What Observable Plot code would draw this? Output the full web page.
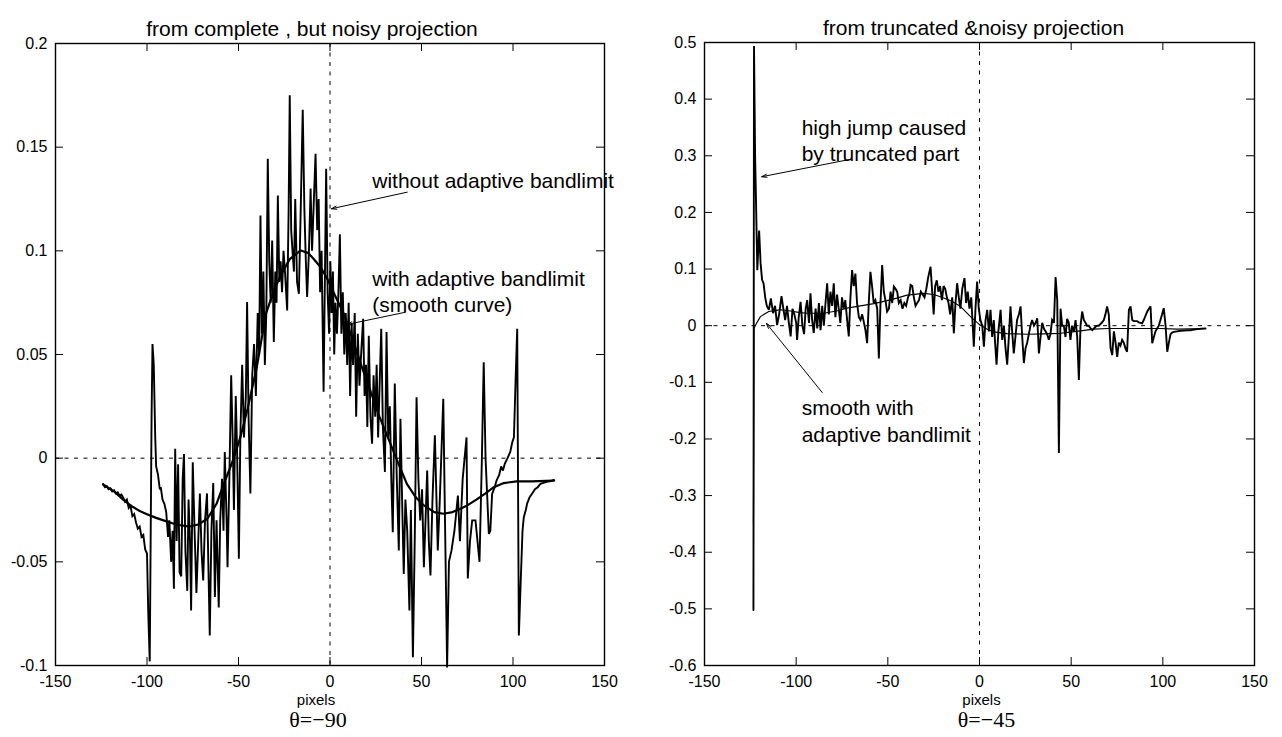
<!DOCTYPE html>
<html><head><meta charset="utf-8">
<script src="https://cdn.jsdelivr.net/npm/d3@7"></script>
<script src="https://cdn.jsdelivr.net/npm/@observablehq/plot@0.6"></script>
<style>
html,body{margin:0;padding:0;background:#fff;overflow:hidden}
#wrap{display:flex;width:1282px;height:737px}
</style></head><body><div id="wrap"></div>
<script>
// ---------- data ----------
const xTicks = [-150,-100,-50,0,50,100,150];
const leftYTicks = [-0.1,-0.05,0,0.05,0.1,0.15,0.2];
const rightYTicks = [-0.6,-0.5,-0.4,-0.3,-0.2,-0.1,0,0.1,0.2,0.3,0.4,0.5];
const leftTitle = "from complete , but noisy projection";
const rightTitle = "from truncated &noisy projection";
const leftTheta = "θ=−90";
const rightTheta = "θ=−45";
const xLabel = "pixels";

// left panel: without adaptive bandlimit (noisy)
const leftNoisy = [[-124,-0.0125],[-123,-0.014],[-122,-0.0135],[-121,-0.015],[-120,-0.0145],[-119,-0.016],[-118,-0.0155],[-117,-0.017],[-116,-0.0165],[-115,-0.018],[-114,-0.0175],[-113,-0.019],[-112,-0.021],[-111,-0.02],[-110,-0.024],[-109,-0.023],[-108,-0.028],[-107,-0.027],[-106,-0.031],[-105,-0.034],[-104,-0.033],[-103,-0.038],[-102,-0.037],[-101,-0.044],[-100,-0.046],[-99.3,-0.075],[-98.5,-0.098],[-97.5,0.02],[-97,0.055],[-96.3,0.045],[-95.5,0.01],[-95,-0.004],[-94,-0.008],[-93,-0.015],[-92.5,-0.014],[-91.5,-0.02],[-90.5,-0.022],[-89.5,-0.026],[-88.5,-0.038],[-87.8,-0.03],[-86.8,-0.05],[-86,-0.035],[-85.3,-0.063],[-84.6,0.0045],[-83.8,-0.04],[-83,-0.003],[-82.2,-0.055],[-81.3,-0.057],[-80.5,-0.01],[-79.8,0.002],[-79,-0.045],[-78,-0.064],[-77.3,-0.02],[-76.5,-0.04],[-75.9,-0.0735],[-75,-0.002],[-74,-0.035],[-73,-0.065],[-72,-0.04],[-71.1,-0.017],[-70.2,-0.045],[-69.3,-0.059],[-68.3,-0.03],[-67.2,-0.017],[-66.5,-0.05],[-65.7,-0.0855],[-64.8,-0.035],[-63.8,-0.012],[-62.9,-0.067],[-62,-0.03],[-60.8,-0.072],[-60,-0.03],[-59,-0.01],[-58.2,-0.035],[-57.5,0.003],[-56.5,-0.03],[-56,-0.0526],[-55,-0.01],[-54,0.04],[-53.2,0.01],[-52.5,-0.025],[-51.5,0.03],[-50.8,0.005],[-49.8,-0.0485],[-49,0.01],[-48,0.045],[-47,0.01],[-46,0.03],[-45.3,0.0753],[-44.5,0.02],[-43.5,-0.017],[-42.5,0.04],[-41.5,0.055],[-40.5,0.03],[-39.5,0.07],[-38.7,0.05],[-38,0.117],[-37.2,0.06],[-36.4,0.09],[-35.6,0.045],[-34.8,0.07],[-34,0.1444],[-33.2,0.095],[-32.4,0.075],[-31.6,0.105],[-30.7,0.056],[-29.9,0.09],[-29.2,0.075],[-28.5,0.1267],[-27.7,0.085],[-27,0.095],[-26.2,0.08],[-25.4,0.1],[-24.6,0.09],[-23.4,0.0712],[-22.6,0.12],[-22,0.175],[-21.2,0.11],[-20.5,0.1],[-19.7,0.09],[-19,0.125],[-18,0.085],[-17,0.0793],[-16,0.12],[-14.9,0.168],[-14,0.12],[-13.2,0.095],[-12.5,0.0777],[-11.5,0.1],[-10.6,0.13],[-9.8,0.1],[-9,0.12],[-7.9,0.1468],[-7,0.11],[-6.2,0.125],[-5.4,0.08],[-4.6,0.1],[-3.5,0.032],[-2.1,0.1396],[-1.3,0.08],[-0.5,0.06],[0.2,0.095],[0.9,0.07],[1.6,0.09],[2.3,0.05],[3,0.075],[3.8,0.06],[4.6,0.08],[5.4,0.108],[6.2,0.06],[7,0.08],[7.8,0.05],[8.6,0.07],[9.4,0.045],[10.2,0.075],[11,0.03],[11.8,0.065],[12.6,0.045],[13.5,0.07],[14.3,0.02],[15.2,0.06],[16.1,0.035],[17,0.05],[18.1,0.0672],[18.9,0.03],[19.7,0.045],[20.4,0.015],[21.2,0.059],[22.1,0.02],[23,0.007],[23.8,0.04],[24.7,0.02],[25.5,0.045],[26.3,0.01],[27.1,0.035],[28,0.0624],[28.9,0.015],[30,-0.0067],[30.9,0.0608],[31.8,0.01],[32.7,0.025],[33.5,-0.01],[34.3,-0.0357],[35.4,0.036],[36.5,-0.01],[37.6,-0.0445],[38.5,0.019],[39.4,-0.02],[40.3,-0.0558],[41.2,-0.02],[42.2,-0.035],[43.4,-0.0735],[44.2,-0.025],[45.3,-0.096],[46.3,-0.04],[47.3,0.0294],[48.3,-0.01],[49.3,-0.03],[50.3,-0.015],[51.3,-0.0526],[52.2,-0.03],[53.1,-0.006],[54,-0.04],[54.9,-0.0566],[56,-0.02],[57.3,0.011],[58.9,-0.0445],[60,-0.02],[61.9,0.0287],[63,-0.04],[64,-0.101],[65,-0.05],[66.4,-0.0445],[68,-0.035],[69.9,-0.018],[71,-0.04],[72.5,-0.01],[74.6,0.01],[75.3,-0.058],[76.5,-0.04],[77.7,-0.03],[79.5,-0.03],[81.7,-0.05],[83,0],[84,0.0463],[85,0],[86.8,-0.0365],[87.6,-0.035],[88.6,-0.0172],[90,-0.014],[91,-0.0108],[92.5,-0.008],[93.5,-0.004],[94.5,-0.006],[95.5,-0.0027],[97,0],[98.5,0.003],[99.6,0.0077],[100.5,0.01],[101.5,0.04],[102.3,0.0624],[103.2,-0.0855],[104.2,-0.06],[105.2,-0.035],[105.9,-0.0285],[107,-0.025],[107.7,-0.022],[109,-0.019],[110.5,-0.017],[112,-0.015],[113.5,-0.014],[115,-0.0124],[117,-0.0118],[119,-0.0113],[121,-0.011],[122.3,-0.0105]];

// left panel: with adaptive bandlimit (smooth)
const leftSmooth = [[-124,-0.0127],[-118,-0.016],[-113,-0.02],[-109,-0.0228],[-104,-0.0255],[-100,-0.027],[-95,-0.0288],[-91,-0.03],[-84,-0.032],[-77,-0.033],[-72,-0.032],[-67,-0.0292],[-62,-0.022],[-58,-0.0124],[-53,-0.001],[-49,0.01],[-45,0.024],[-40,0.044],[-35,0.0697],[-31,0.08],[-27,0.0881],[-22,0.096],[-16,0.1002],[-12,0.099],[-9,0.0962],[-5,0.092],[-1.5,0.0865],[3,0.078],[7.5,0.0697],[12,0.058],[17,0.045],[22,0.0327],[27,0.02],[33,0.007],[38,-0.004],[42,-0.0124],[47,-0.019],[51.3,-0.0228],[57,-0.026],[62,-0.0268],[67,-0.026],[71,-0.0245],[75,-0.0228],[80,-0.02],[85,-0.017],[89.5,-0.014],[95,-0.012],[102,-0.0112],[110,-0.0112],[118,-0.011],[122.5,-0.0108]];

// right panel: noisy (truncated)
const rightNoisy = [[-123.3,-0.502],[-123,0.494],[-122.4,0.3],[-121.9,0.22],[-121.2,0.098],[-120.2,0.168],[-119.4,0.11],[-118.6,0.081],[-117.8,0.075],[-116.9,0.05],[-116,0.035],[-114.9,0.028],[-113.8,0.048],[-112.6,0.022],[-111.5,0.035],[-110.4,0.001],[-109.3,0.02],[-108,0.052],[-107,0.03],[-106,0.01],[-105,0.035],[-104,0.005],[-103,-0.019],[-102,0.03],[-101,0.02],[-100,0.005],[-99.5,-0.025],[-98.6,0.015],[-97.6,0.042],[-96.6,0],[-95.7,-0.015],[-94.8,0.03],[-94,0.045],[-93,0.005],[-92.2,0.057],[-91.3,0.01],[-90.4,-0.013],[-89.4,0.03],[-88.5,-0.005],[-87.6,0.04],[-86.7,-0.008],[-85.8,0.035],[-84.9,0],[-84,0.04],[-83.1,0.075],[-82.2,0.02],[-81.3,0.06],[-80.4,0.035],[-79.5,0.075],[-78.6,0.015],[-77.7,0.055],[-76.8,0.03],[-75.9,0.005],[-75,0.05],[-74.1,0.03],[-73.2,0.045],[-72.2,0.01],[-71.3,-0.019],[-70.4,0.05],[-69.5,0.098],[-68.6,0.07],[-67.7,0.092],[-66.8,0.04],[-65.8,0.015],[-64.9,0.01],[-64,0.02],[-63,0.005],[-62.2,-0.008],[-61.3,-0.031],[-60.4,0.04],[-59.5,0.095],[-58.6,0.07],[-57.7,0.04],[-56.8,0.045],[-55.8,0.03],[-54.9,-0.058],[-54,0.04],[-53.1,0.107],[-52.2,0.06],[-51.3,0.045],[-50.4,0.025],[-49.4,0.03],[-48.5,0.06],[-47.6,0.04],[-46.7,0.069],[-45.8,0.065],[-44.9,0.06],[-44,0.04],[-43,0.045],[-42,0.03],[-41,0.04],[-40,0.035],[-39,0.05],[-38.3,0.055],[-37.6,0.072],[-36.7,0.07],[-35.8,0.05],[-34.9,0.035],[-34,0.04],[-33,0.045],[-32,0.06],[-31,0.055],[-30,0.05],[-29,0.065],[-28,0.085],[-26.7,0.104],[-25.8,0.06],[-25,0.02],[-24.2,0.07],[-23.3,0.08],[-22.4,0.06],[-21.5,0.07],[-20.5,0.045],[-19.6,0.07],[-18.7,0.065],[-17.8,0.05],[-16.9,0.04],[-16,0.02],[-14.9,0.05],[-14,-0.0135],[-13.1,0.04],[-12.2,0.075],[-11.3,0.05],[-10.4,0.03],[-9.4,0.065],[-8.2,0.084],[-7.3,0.04],[-6.4,0.06],[-5.5,0.03],[-4.5,0.05],[-3.1,-0.037],[-2.2,0.03],[-1.3,0.078],[-0.4,0.03],[0.5,0.01],[1.5,0],[2.4,-0.037],[3.3,0.01],[4.2,0.028],[5.1,-0.01],[6,0.028],[6.9,-0.02],[7.8,0.01],[8.5,-0.03],[9.3,-0.069],[10.3,-0.01],[11.5,0.028],[12.4,-0.025],[13.3,0],[14.2,-0.04],[15.1,-0.069],[16,-0.02],[16.9,0.034],[17.8,-0.01],[18.7,-0.049],[19.6,-0.02],[20.5,0.01],[21.5,0.02],[22.4,0.034],[23.3,-0.02],[24.2,-0.066],[25.1,-0.04],[26,-0.03],[26.9,-0.015],[27.8,0],[28.7,0.01],[29.7,0],[30.6,0.005],[31.5,0.013],[32.4,-0.049],[33.3,-0.02],[34.2,0.005],[35.1,-0.005],[36,-0.01],[36.9,-0.015],[37.8,-0.025],[38.7,-0.015],[39.6,0.01],[40.6,0.005],[41.5,0.086],[42.4,0.045],[43.3,-0.225],[44.2,0.03],[45.1,0],[46,0],[46.9,-0.02],[47.8,0.012],[48.7,0.005],[49.6,-0.025],[50.5,0],[51.5,-0.01],[52.4,0.01],[53.3,-0.02],[54.2,-0.096],[55.1,0],[56,0.025],[56.9,0.01],[57.8,0.005],[58.7,0],[59.6,0],[60.6,-0.005],[61.5,-0.008],[62.4,-0.005],[63.3,-0.002],[64.2,0],[65.1,0],[66,0.003],[66.9,0.006],[67.8,0.01],[68.7,0.02],[69.6,0.034],[70.5,0.02],[71.5,-0.04],[72.4,-0.052],[73.3,-0.01],[74.2,-0.03],[75.1,-0.055],[76,-0.03],[76.9,-0.035],[77.8,-0.025],[78.7,-0.03],[79.6,-0.04],[80.5,-0.046],[81.5,0.028],[82.4,0.034],[83.3,0.01],[84.2,0.008],[85.1,0.008],[86,0.008],[86.9,0.006],[87.8,0.005],[88.7,0.004],[89.6,0.01],[90.6,0.018],[91.5,0.025],[92.4,0.03],[93.3,0.034],[94.2,-0.031],[95.1,-0.02],[96,-0.01],[96.9,-0.005],[97.8,0],[98.7,0.01],[99.6,0.02],[100.5,0.031],[101.5,0],[102.4,-0.046],[103.3,-0.03],[104.2,-0.015],[105.1,-0.012],[106,-0.011],[107.8,-0.01],[109.6,-0.009],[111.5,-0.0085],[113.3,-0.008],[115,-0.008],[117,-0.007],[119,-0.006],[121,-0.0055],[123.3,-0.005]];

// right panel: smooth with adaptive bandlimit
const rightSmooth = [[-123.3,-0.35],[-123,-0.005],[-121.5,0.005],[-119.5,0.016],[-117,0.021],[-114.9,0.025],[-111,0.027],[-108.5,0.028],[-103,0.026],[-98,0.023],[-94,0.022],[-85,0.022],[-78,0.026],[-72.2,0.031],[-65,0.035],[-57.6,0.039],[-48,0.046],[-39.5,0.054],[-30.4,0.057],[-25,0.055],[-21.3,0.051],[-15,0.043],[-10.4,0.034],[-4.9,0.016],[0,0.002],[4,-0.006],[7.8,-0.011],[15,-0.014],[26,-0.015],[35,-0.0145],[44.2,-0.0135],[53,-0.01],[62.4,-0.006],[70,-0.005],[80.5,-0.005],[90,-0.005],[98.7,-0.005],[107.8,-0.006],[115,-0.0055],[123.3,-0.005]];

// annotations
const leftNotes = [
  {x: 23.1, y: 0.1336, text: "without adaptive bandlimit"},
  {x: 23.1, y: 0.0865, text: "with adaptive bandlimit"},
  {x: 23.1, y: 0.0737, text: "(smooth curve)"}
];
const leftArrows = [
  {x1: 42.2, y1: 0.1283, x2: 0.8, y2: 0.1203},
  {x1: 41.3, y1: 0.0704, x2: 9.4, y2: 0.0645}
];
const rightNotes = [
  {x: -97, y: 0.349, text: "high jump caused"},
  {x: -97, y: 0.303, text: "by truncated part"},
  {x: -97, y: -0.146, text: "smooth with"},
  {x: -97, y: -0.193, text: "adaptive bandlimit"}
];
const rightArrows = [
  {x1: -70, y1: 0.294, x2: -118.8, y2: 0.263},
  {x1: -85.8, y1: -0.118, x2: -116.2, y2: 0.004}
];

const toObj = a => a.map(([x, y]) => ({x, y}));

function panel(o) {
  const W = 641, H = 737;
  const fw = W - o.ml - o.mr, fh = H - o.mt - o.mb;
  const innerX = xTicks.slice(1, -1);
  const innerY = o.yTicks.slice(1, -1);
  return Plot.plot({
    width: W, height: H,
    marginLeft: o.ml, marginRight: o.mr, marginTop: o.mt, marginBottom: o.mb,
    x: {domain: [-150, 150]},
    y: {domain: o.yDomain},
    style: {fontFamily: "'Liberation Sans', Arial, sans-serif", fontSize: "16px", background: "#fff", color: "#000"},
    marks: [
      Plot.ruleY([0], {stroke: "#000", strokeWidth: 1, strokeDasharray: "4,5.5"}),
      Plot.ruleX([0], {stroke: "#000", strokeWidth: 1, strokeDasharray: "4,5.5"}),
      Plot.line(toObj(o.smooth), {x: "x", y: "y", stroke: "#000", strokeWidth: o.smoothW}),
      Plot.line(toObj(o.noisy), {x: "x", y: "y", stroke: "#000", strokeWidth: o.noisyW, strokeLinejoin: "miter", strokeMiterlimit: 3}),
      Plot.tickX(innerX, {x: d => d, insetTop: fh - 8, stroke: "#000"}),
      Plot.tickX(innerX, {x: d => d, insetBottom: fh - 8, stroke: "#000"}),
      Plot.tickY(innerY, {y: d => d, insetRight: fw - 8, stroke: "#000"}),
      Plot.tickY(innerY, {y: d => d, insetLeft: fw - 8, stroke: "#000"}),
      Plot.frame({stroke: "#000", strokeWidth: 1.4}),
      Plot.axisX({ticks: xTicks, tickSize: 0, tickPadding: 10, tickFormat: d => String(d), label: null, fontSize: 16}),
      Plot.axisY({ticks: o.yTicks, tickSize: 0, tickPadding: 8, tickFormat: d => String(d), label: null, fontSize: 16}),
      Plot.arrow(o.arrows, {x1: "x1", y1: "y1", x2: "x2", y2: "y2", stroke: "#000", strokeWidth: 1, headLength: 8, headAngle: 35}),
      Plot.text(o.notes, {x: "x", y: "y", text: "text", textAnchor: "start", fontSize: 21, fill: "#000"}),
      Plot.text([o.title], {text: d => d, frameAnchor: "top", dy: -22, dx: o.titleDx, fontSize: 21, fill: "#000"}),
      Plot.text([xLabel], {text: d => d, frameAnchor: "bottom", dy: 39, dx: o.pixDx, fontSize: 15, fill: "#000"}),
      Plot.text([o.theta], {text: d => d, frameAnchor: "bottom", dy: 61, dx: o.thetaDx, fontSize: 22, fontFamily: "'Liberation Serif', 'Times New Roman', serif", fill: "#000"})
    ]
  });
}

const wrap = document.getElementById("wrap");
wrap.appendChild(panel({
  ml: 55, mr: 37, mt: 43, mb: 72,
  yDomain: [-0.1, 0.2], yTicks: leftYTicks,
  noisy: leftNoisy, smooth: leftSmooth, noisyW: 1.9, smoothW: 2.2,
  notes: leftNotes, arrows: leftArrows,
  title: leftTitle, titleDx: -18, pixDx: -14, theta: leftTheta, thetaDx: -12
}));
wrap.appendChild(panel({
  ml: 63, mr: 28, mt: 42, mb: 72,
  yDomain: [-0.6, 0.5], yTicks: rightYTicks,
  noisy: rightNoisy, smooth: rightSmooth, noisyW: 1.9, smoothW: 1.1,
  notes: rightNotes, arrows: rightArrows,
  title: rightTitle, titleDx: -6, pixDx: 2, theta: rightTheta, thetaDx: 7
}));
</script></body></html>
